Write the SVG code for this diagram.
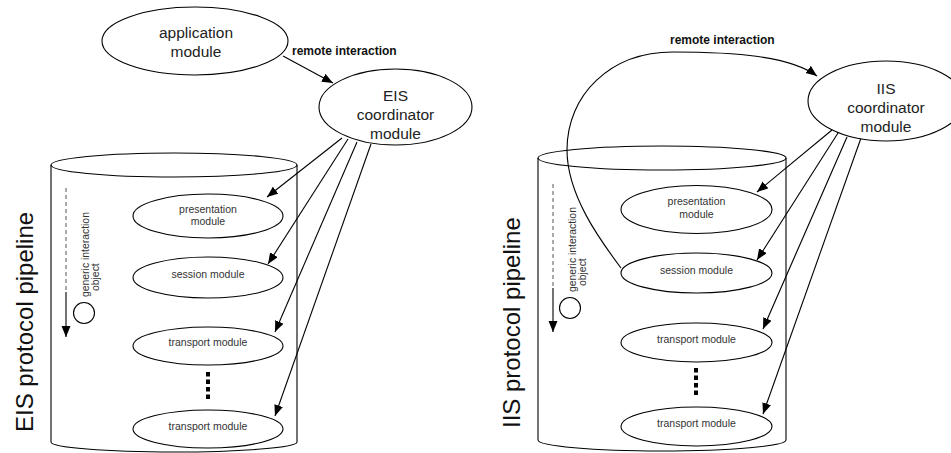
<svg xmlns="http://www.w3.org/2000/svg" width="951" height="453" viewBox="0 0 951 453">
<style>
.shape{fill:none;stroke:#000;stroke-width:1.1}
.node{fill:#fff;stroke:#000;stroke-width:1.1}
.conn{fill:none;stroke:#000;stroke-width:1.1}
.big{font-family:"Liberation Sans",Arial,sans-serif;font-size:15.5px;fill:#222;text-anchor:middle}
.small{font-family:"Liberation Sans",Arial,sans-serif;font-size:10.5px;fill:#333;text-anchor:middle}
.lbl{font-family:"Liberation Sans",Arial,sans-serif;font-size:12px;font-weight:bold;fill:#111}
.title{font-family:"Liberation Sans",Arial,sans-serif;font-size:24px;fill:#111}
.gio{font-family:"Liberation Sans",Arial,sans-serif;font-size:10.4px;fill:#333}
.dash{fill:none;stroke:#555;stroke-width:1;stroke-dasharray:4 3}
.dots{fill:none;stroke:#000;stroke-width:4;stroke-dasharray:4.5 3}
</style>
<defs>
<marker id="ah" markerUnits="userSpaceOnUse" markerWidth="12" markerHeight="10" refX="11" refY="4.5" orient="auto">
<path d="M0,0 L11,4.5 L0,9 z" fill="#000"/>
</marker>
</defs>

<!-- EIS pipeline cylinder -->
<g id="eis-pipeline">
<ellipse class="shape" cx="174" cy="165" rx="123" ry="12"/>
<path class="shape" d="M51 165 V442 A123 10 0 0 0 297 442 V165"/>
<text class="title" transform="translate(33,432) rotate(-90)">EIS protocol pipeline</text>
<line class="dash" x1="66" y1="188" x2="66" y2="292"/>
<line class="conn" x1="66" y1="292" x2="66" y2="337" marker-end="url(#ah)"/>
<circle class="shape" cx="84" cy="313" r="10.5"/>
<text class="gio" transform="translate(89,297) rotate(-90)">generic interaction</text>
<text class="gio" transform="translate(99,291) rotate(-90)">object</text>
</g>

<!-- IIS pipeline cylinder -->
<g id="iis-pipeline">
<ellipse class="shape" cx="662" cy="158" rx="124" ry="12"/>
<path class="shape" d="M538 158 V440 A124 11 0 0 0 786 440 V158"/>
<text class="title" transform="translate(520,428) rotate(-90)">IIS protocol pipeline</text>
<line class="dash" x1="553" y1="184" x2="553" y2="288"/>
<line class="conn" x1="553" y1="288" x2="553" y2="332" marker-end="url(#ah)"/>
<circle class="shape" cx="570" cy="308" r="10.5"/>
<text class="gio" transform="translate(576,292) rotate(-90)">generic interaction</text>
<text class="gio" transform="translate(586,286) rotate(-90)">object</text>
</g>

<!-- connectors -->
<g id="connectors">
<line class="conn" x1="283" y1="56" x2="333" y2="83" marker-end="url(#ah)"/>
<line class="conn" x1="342" y1="138" x2="267" y2="197" marker-end="url(#ah)"/>
<line class="conn" x1="348" y1="139" x2="268" y2="264" marker-end="url(#ah)"/>
<line class="conn" x1="357" y1="142" x2="275" y2="332" marker-end="url(#ah)"/>
<line class="conn" x1="371" y1="144" x2="275" y2="416" marker-end="url(#ah)"/>
<path class="conn" d="M621 268 C600 240, 567 195, 567 150 C567 95, 610 52, 673 52 C735 52, 790 56, 817 76" marker-end="url(#ah)"/>
<line class="conn" x1="832" y1="130" x2="757" y2="192" marker-end="url(#ah)"/>
<line class="conn" x1="838" y1="133" x2="757" y2="260" marker-end="url(#ah)"/>
<line class="conn" x1="847" y1="137" x2="763" y2="329" marker-end="url(#ah)"/>
<line class="conn" x1="861" y1="138" x2="763" y2="414" marker-end="url(#ah)"/>
<text class="lbl" x="292" y="55">remote interaction</text>
<text class="lbl" x="670" y="44">remote interaction</text>
</g>

<!-- left nodes -->
<g id="application-module">
<ellipse class="node" cx="195" cy="41" rx="93" ry="34"/>
<text class="big" x="196" y="37.5">application</text>
<text class="big" x="196" y="56.5">module</text>
</g>
<g id="eis-coordinator">
<ellipse class="node" cx="395.5" cy="107" rx="76.5" ry="38"/>
<text class="big" x="395.5" y="101">EIS</text>
<text class="big" x="395.5" y="120">coordinator</text>
<text class="big" x="395.5" y="139">module</text>
</g>
<g id="eis-presentation">
<ellipse class="node" cx="208" cy="216" rx="75" ry="22"/>
<text class="small" x="208" y="212.5">presentation</text>
<text class="small" x="208" y="224.5">module</text>
</g>
<g id="eis-session">
<ellipse class="node" cx="208" cy="277.5" rx="75" ry="20.5"/>
<text class="small" x="208" y="278">session module</text>
</g>
<g id="eis-transport-1">
<ellipse class="node" cx="208" cy="346" rx="75" ry="19"/>
<text class="small" x="208" y="346">transport module</text>
</g>
<line id="eis-ellipsis" class="dots" x1="208" y1="372" x2="208" y2="400"/>
<g id="eis-transport-2">
<ellipse class="node" cx="208" cy="429" rx="75" ry="19"/>
<text class="small" x="208" y="430">transport module</text>
</g>

<!-- right nodes -->
<g id="iis-coordinator">
<ellipse class="node" cx="886" cy="101" rx="78" ry="40"/>
<text class="big" x="886" y="94">IIS</text>
<text class="big" x="886" y="113">coordinator</text>
<text class="big" x="886" y="132">module</text>
</g>
<g id="iis-presentation">
<ellipse class="node" cx="696.5" cy="209.5" rx="75.5" ry="24"/>
<text class="small" x="696.5" y="205">presentation</text>
<text class="small" x="696.5" y="218">module</text>
</g>
<g id="iis-session">
<ellipse class="node" cx="696.5" cy="273" rx="75.5" ry="20"/>
<text class="small" x="696.5" y="273.5">session module</text>
</g>
<g id="iis-transport-1">
<ellipse class="node" cx="696.5" cy="342.5" rx="75.5" ry="19.5"/>
<text class="small" x="696.5" y="343">transport module</text>
</g>
<line id="iis-ellipsis" class="dots" x1="696" y1="368" x2="696" y2="397"/>
<g id="iis-transport-2">
<ellipse class="node" cx="696.5" cy="426.5" rx="75.5" ry="19.5"/>
<text class="small" x="696.5" y="427">transport module</text>
</g>
</svg>
